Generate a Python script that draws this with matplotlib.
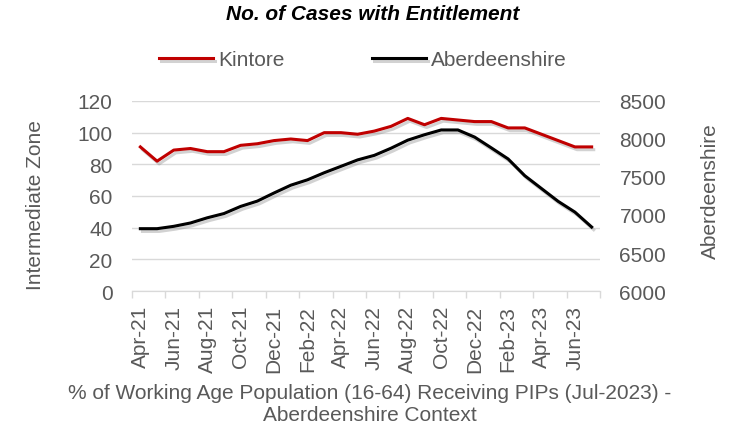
import matplotlib
matplotlib.use("Agg")
import matplotlib.pyplot as plt
import matplotlib.patheffects as pe
from matplotlib.ticker import FixedLocator, NullFormatter, FixedFormatter

plt.rcParams['font.family'] = ['Liberation Sans', 'DejaVu Sans']

months = ["Apr-21", "May-21", "Jun-21", "Jul-21", "Aug-21", "Sep-21", "Oct-21", "Nov-21",
          "Dec-21", "Jan-22", "Feb-22", "Mar-22", "Apr-22", "May-22", "Jun-22", "Jul-22",
          "Aug-22", "Sep-22", "Oct-22", "Nov-22", "Dec-22", "Jan-23", "Feb-23", "Mar-23",
          "Apr-23", "May-23", "Jun-23", "Jul-23"]
kintore = [91, 82, 89, 90, 88, 88, 92, 93, 95, 96, 95, 100, 100, 99,
           101, 104, 109, 105, 109, 108, 107, 107, 103, 103, 99, 95, 91, 91]
aberdeenshire = [6820, 6820, 6851, 6895, 6963, 7019, 7113, 7183, 7290, 7392, 7463, 7556,
                 7640, 7725, 7785, 7879, 7985, 8056, 8119, 8119, 8025, 7883, 7738, 7517,
                 7348, 7179, 7038, 6842]

W, H = 743, 431
grey = '#595959'
fs = 15
fig = plt.figure(figsize=(W / 100, H / 100), dpi=100)
ax = fig.add_axes([132 / W, 1 - 292 / H, (600 - 132) / W, (292 - 102) / H])
ax2 = ax.twinx()

x = list(range(len(months)))
shadow = [pe.SimpleLineShadow(offset=(1.5, -2), shadow_color='#808080', alpha=0.35), pe.Normal()]
l1, = ax.plot(x, kintore, color='#c00000', lw=2.2, path_effects=shadow, zorder=3, label='Kintore')
l2, = ax2.plot(x, aberdeenshire, color='black', lw=2.2, path_effects=shadow, zorder=3, label='Aberdeenshire')

ax.set_xlim(-0.5, len(months) - 0.5)
ax.set_ylim(0, 120)
ax.set_yticks(range(0, 121, 20))
ax2.set_ylim(6000, 8500)
ax2.set_yticks(range(6000, 8501, 500))
ax.yaxis.grid(True, color='#d9d9d9', lw=1)
ax.set_axisbelow(True)

ax.xaxis.set_major_locator(FixedLocator([i - 0.5 for i in range(0, len(months) + 1, 2)]))
ax.xaxis.set_major_formatter(NullFormatter())
ax.xaxis.set_minor_locator(FixedLocator(list(range(0, len(months), 2))))
ax.xaxis.set_minor_formatter(FixedFormatter([months[i] for i in range(0, len(months), 2)]))
ax.tick_params(axis='x', which='major', length=5, color='#d9d9d9', width=1)
ax.tick_params(axis='x', which='minor', length=0, labelsize=fs, labelcolor=grey, rotation=90, pad=10)
ax.tick_params(axis='y', length=0, labelsize=fs, labelcolor=grey, pad=14)
ax2.tick_params(axis='y', length=0, labelsize=fs, labelcolor=grey, pad=14)

for a in (ax, ax2):
    for s in ('top', 'left', 'right'):
        a.spines[s].set_visible(False)
    a.spines['bottom'].set_color('#d9d9d9')

fig.text(36 / W, 1 - 205 / H, 'Intermediate Zone', rotation=90, ha='center', va='center',
         fontsize=fs, color=grey)
fig.text(710 / W, 1 - 191 / H, 'Aberdeenshire', rotation=90, ha='center', va='center',
         fontsize=fs, color=grey)

fig.text(373 / W, 1 - 15 / H, 'No. of Cases with Entitlement', ha='center', va='center',
         fontsize=fs, fontweight='bold', fontstyle='italic', color='black')
fig.legend(handles=[l1, l2], loc='center', bbox_to_anchor=(363 / W, 1 - 61 / H), ncol=2,
           frameon=False, fontsize=fs, labelcolor=grey, handlelength=2.6,
           handletextpad=0.25, columnspacing=4.2)
fig.text(370 / W, 1 - 405 / H, '% of Working Age Population (16-64) Receiving PIPs (Jul-2023) -\nAberdeenshire Context',
         ha='center', va='center', fontsize=fs, color=grey, linespacing=1.2)

fig.savefig('out.png', dpi=100)
